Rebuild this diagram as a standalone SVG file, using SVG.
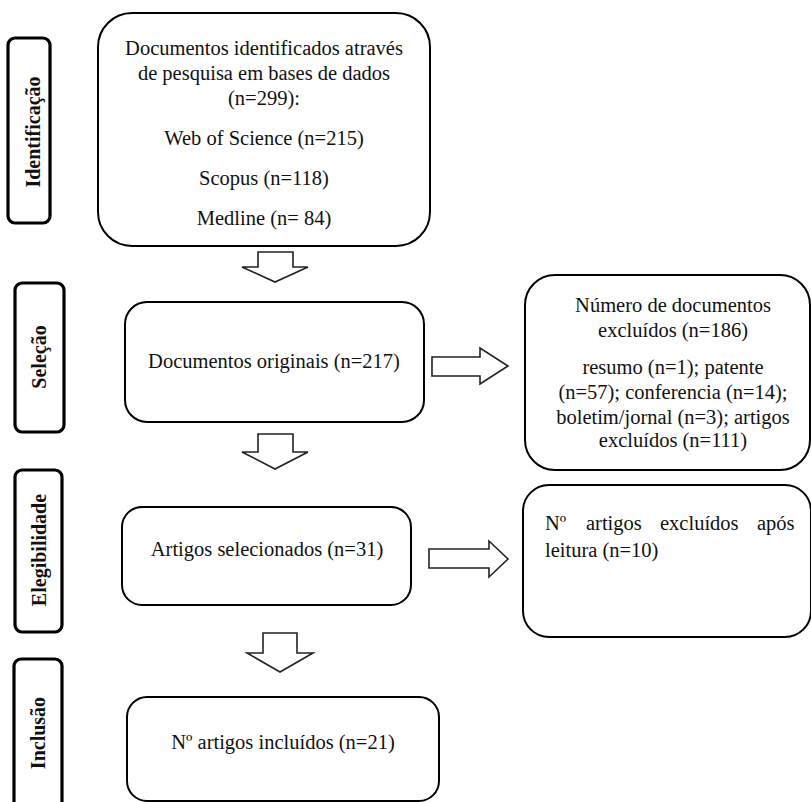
<svg xmlns="http://www.w3.org/2000/svg" width="811" height="802" viewBox="0 0 811 802">
<style>
.box{fill:#fff;stroke:#000;stroke-width:2}
.lab{fill:#fff;stroke:#000;stroke-width:3.2}
.arr{fill:#fff;stroke:#222;stroke-width:1.6;stroke-linejoin:miter}
.t{font-family:"Liberation Serif","Times New Roman",serif;font-size:20.5px;fill:#111}
.c{text-anchor:middle}
.b{font-family:"Liberation Serif","Times New Roman",serif;font-size:20px;font-weight:bold;fill:#111;text-anchor:middle}
</style>
<rect width="811" height="802" fill="#fff"/>
<g id="stage-identificacao">
<rect class="lab" x="8" y="38" width="42" height="185" rx="7"/>
<text class="b" transform="translate(40,132) rotate(-90)">Identificação</text>
</g>
<g id="stage-selecao">
<rect class="lab" x="15" y="283" width="49" height="149" rx="7"/>
<text class="b" transform="translate(46,357) rotate(-90)">Seleção</text>
</g>
<g id="stage-elegibilidade">
<rect class="lab" x="15" y="470" width="47" height="162" rx="7"/>
<text class="b" transform="translate(46,550) rotate(-90)">Elegibilidade</text>
</g>
<g id="stage-inclusao">
<rect class="lab" x="14" y="659" width="48" height="160" rx="7"/>
<text class="b" transform="translate(45,733) rotate(-90)">Inclusão</text>
</g>
<g id="n-identificados">
<rect class="box" x="98" y="13" width="332" height="233" rx="34"/>
<text class="t c" x="264" y="55">Documentos identificados através</text>
<text class="t c" x="264" y="80">de pesquisa em bases de dados</text>
<text class="t c" x="264" y="105">(n=299):</text>
<text class="t c" x="264" y="145">Web of Science (n=215)</text>
<text class="t c" x="264" y="185">Scopus (n=118)</text>
<text class="t c" x="264" y="225">Medline (n= 84)</text>
</g>
<g id="n-originais">
<rect class="box" x="125" y="302" width="299" height="120" rx="22"/>
<text class="t c" x="274" y="368">Documentos originais (n=217)</text>
</g>
<g id="n-excluidos-186">
<rect class="box" x="525" y="275" width="285" height="195" rx="30"/>
<text class="t c" x="673" y="312">Número de documentos</text>
<text class="t c" x="673" y="337">excluídos (n=186)</text>
<text class="t c" x="673" y="374">resumo (n=1); patente</text>
<text class="t c" x="673" y="399">(n=57); conferencia (n=14);</text>
<text class="t c" x="673" y="424">boletim/jornal (n=3); artigos</text>
<text class="t c" x="673" y="447">excluídos (n=111)</text>
</g>
<g id="n-selecionados">
<rect class="box" x="122" y="507" width="289" height="98" rx="20"/>
<text class="t c" x="267" y="556">Artigos selecionados (n=31)</text>
</g>
<g id="n-excluidos-10">
<rect class="box" x="523" y="485" width="288" height="152" rx="26"/>
<text class="t" y="530"><tspan x="545">Nº</tspan><tspan x="586">artigos</tspan><tspan x="660">excluídos</tspan><tspan x="757">após</tspan></text>
<text class="t" x="545" y="557">leitura (n=10)</text>
</g>
<g id="n-incluidos">
<rect class="box" x="127" y="697" width="312" height="104" rx="20"/>
<text class="t c" x="283" y="749">Nº artigos incluídos (n=21)</text>
</g>
<g id="connectors">
<polygon class="arr" points="258,252 293,252 293,267 308,267 275,282 242,267 258,267"/>
<polygon class="arr" points="258,434 293,434 293,452 308,452 275,469 242,452 258,452"/>
<polygon class="arr" points="263,633 297,633 297,653 313,653 280,672 247,653 263,653"/>
<polygon class="arr" points="432,357 480,357 480,348 508,366 480,384 480,376 432,376"/>
<polygon class="arr" points="429,549 489,549 489,541 508,559 489,577 489,568 429,568"/>
</g>
</svg>
